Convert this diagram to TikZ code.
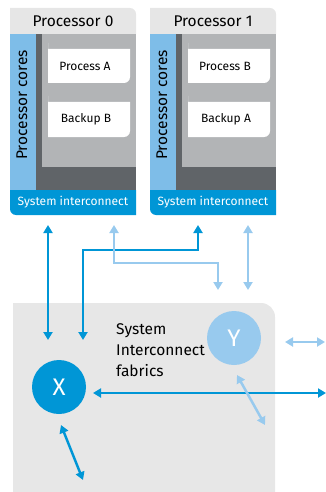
\documentclass[tikz,border=0pt]{standalone}
\usepackage{fontspec}
\setmainfont{Fira Sans}
\usetikzlibrary{arrows.meta}

\definecolor{hpblue}{RGB}{0,150,214}
\definecolor{hplight}{RGB}{152,202,238}
\definecolor{corecol}{RGB}{126,189,232}
\definecolor{headgray}{RGB}{230,230,230}
\definecolor{midgray}{RGB}{178,180,182}
\definecolor{deepgray}{RGB}{96,100,104}
\definecolor{fabricgray}{RGB}{231,231,231}

\tikzset{
	titletext/.style={font=\fontsize{15.5}{16}\selectfont},
	proctext/.style={font=\fontsize{12}{12}\selectfont},
	bustext/.style={font=\fontsize{12}{12}\selectfont, text=white},
	coretext/.style={font=\fontsize{15.5}{16}\selectfont, rotate=90},
	link/.style={line width=2.5pt, {Triangle[length=8pt,width=9pt]}-{Triangle[length=8pt,width=9pt]}},
	darklink/.style={link, draw=hpblue},
	lightlink/.style={link, draw=hplight},
	fabricnode/.style={shape=circle, minimum size=54pt, inner sep=0pt, text=white, font=\fontsize{24}{24}\selectfont}
}

\begin{document}
\begin{tikzpicture}[x=1pt, y=-1pt]
	\useasboundingbox (0,0) rectangle (325,492);

	% processors
	\foreach \ox/\n/\pa/\pb in {0/0/A/B, 140/1/B/A}{
		\begin{scope}[xshift=\ox pt]
			\fill[headgray] (10,34) -- (10,8) [rounded corners=6pt] -- (136,8) [sharp corners] -- (136,34) -- cycle;
			\fill[corecol] (10,34) rectangle (36,190);
			\fill[deepgray] (36,34) rectangle (136,190);
			\fill[midgray] (42,34) rectangle (136,167);
			\fill[hpblue] (136,190) -- (136,215) [rounded corners=6pt] -- (10,215) [sharp corners] -- (10,190) -- cycle;
			\fill[white] (48,49) -- (130,49) [rounded corners=6pt] -- (130,83) [sharp corners] -- (48,83) [rounded corners=6pt] -- (48,49) [sharp corners] -- cycle;
			\fill[white] (48,102) -- (130,102) [rounded corners=6pt] -- (130,137) [sharp corners] -- (48,137) [rounded corners=6pt] -- (48,102) [sharp corners] -- cycle;

			\node (title\n)[titletext] at (73,21) {Processor \n};
			\node (cores\n)[coretext] at (22,105) {Processor cores};
			\node (first\n)[proctext] at (85,66) {Process \pa};
			\node (second\n)[proctext] at (86,119.5) {Backup \pb};
			\node (bus\n)[bustext] at (73,202.5) {System interconnect};
		\end{scope}
	}

	% fabric
	\fill[fabricgray] (13,488) -- (13,303) [rounded corners=14pt] -- (275,303) [sharp corners] -- (275,492) -- (13,492) [rounded corners=10pt] -- (13,488) [sharp corners] -- cycle;
	\node (fabric)[align=left, anchor=north west, font=\fontsize{15.5}{21}\selectfont, inner sep=0pt] at (116,323) {System\\Interconnect\\fabrics};

	\node (x)[fabricnode, fill=hpblue] at (59,387) {X};
	\node (y)[fabricnode, fill=hplight] at (234,338) {Y};

	% connector ends
	\coordinate (d1top) at (48,225);
	\coordinate (d1bot) at (48,340);
	\coordinate (d2top) at (198,225);
	\coordinate (d2bend) at (198,250);
	\coordinate (d2bot) at (83,340);
	\coordinate (l3top) at (114,225);
	\coordinate (l3bend) at (218,263);
	\coordinate (l3bot) at (218,290);
	\coordinate (l4top) at (248,225);
	\coordinate (l4bot) at (248,290);
	\coordinate (l5left) at (285,342);
	\coordinate (l5right) at (325,342);
	\coordinate (d6left) at (93,393);
	\coordinate (d6right) at (326,393);
	\coordinate (l7a) at (237,375);
	\coordinate (l7b) at (265,425);
	\coordinate (d8a) at (61,425);
	\coordinate (d8b) at (83,480);

	\draw[darklink] (d1top) -- (d1bot);
	\draw[darklink] (d2bot) |- (d2bend) -- (d2top);
	\draw[lightlink] (l3top) |- (l3bend) -- (l3bot);
	\draw[lightlink] (l4top) -- (l4bot);
	\draw[lightlink] (l5left) -- (l5right);
	\draw[darklink] (d6left) -- (d6right);
	\draw[lightlink] (l7a) -- (l7b);
	\draw[darklink] (d8a) -- (d8b);
\end{tikzpicture}
\end{document}
